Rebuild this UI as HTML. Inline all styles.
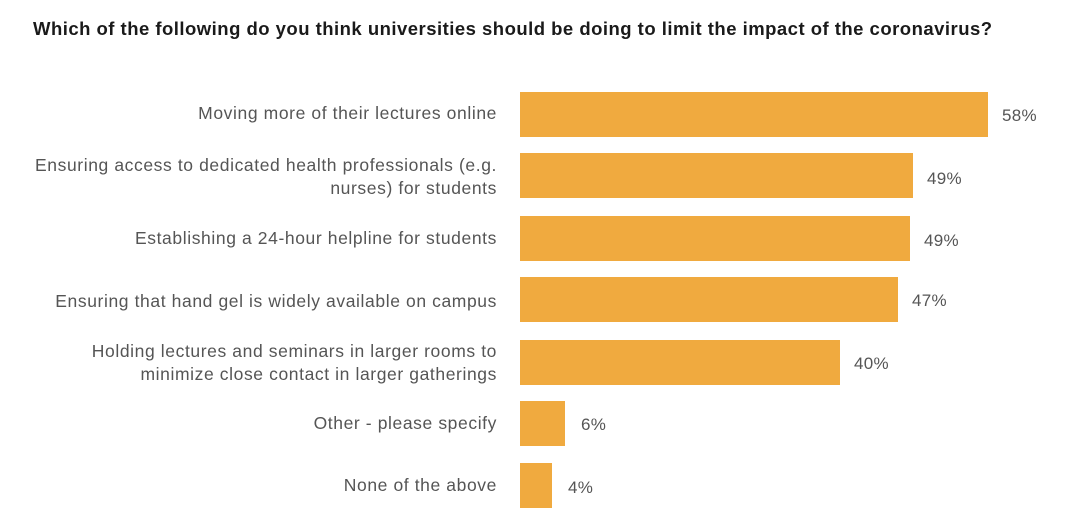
<!DOCTYPE html>
<html><head><meta charset="utf-8"><style>
body{margin:0;width:1080px;height:525px;background:#fff;position:relative;overflow:hidden;font-family:"Liberation Sans",sans-serif}
.t{position:absolute;left:33px;top:18px;font-size:18.5px;font-weight:bold;color:#1a1a1a;letter-spacing:0.48px;white-space:nowrap}
.b{position:absolute;left:520px;height:45px;background:#f0aa3f}
.l{position:absolute;right:583px;text-align:right;font-size:17.5px;color:#555;line-height:23px;letter-spacing:0.6px;white-space:nowrap}
.v{position:absolute;font-size:17px;color:#555;letter-spacing:0.3px}
</style></head><body>
<div class="t">Which of the following do you think universities should be doing to limit the impact of the coronavirus?</div>
<div class="b" style="top:92px;width:468px"></div><div class="v" style="left:1002px;top:106px">58%</div>
<div class="b" style="top:153px;width:393px"></div><div class="v" style="left:927px;top:169px">49%</div>
<div class="b" style="top:216px;width:390px"></div><div class="v" style="left:924px;top:231px">49%</div>
<div class="b" style="top:277px;width:378px"></div><div class="v" style="left:912px;top:291px">47%</div>
<div class="b" style="top:340px;width:320px"></div><div class="v" style="left:854px;top:354px">40%</div>
<div class="b" style="top:401px;width:45px"></div><div class="v" style="left:581px;top:415px">6%</div>
<div class="b" style="top:463px;width:32px"></div><div class="v" style="left:568px;top:478px">4%</div>
<div class="l" style="top:102px">Moving more of their lectures online</div>
<div class="l" style="top:154px">Ensuring access to dedicated health professionals (e.g.<br>nurses) for students</div>
<div class="l" style="top:227px">Establishing a 24-hour helpline for students</div>
<div class="l" style="top:290px">Ensuring that hand gel is widely available on campus</div>
<div class="l" style="top:340px">Holding lectures and seminars in larger rooms to<br>minimize close contact in larger gatherings</div>
<div class="l" style="top:412px">Other - please specify</div>
<div class="l" style="top:474px">None of the above</div>
</body></html>
